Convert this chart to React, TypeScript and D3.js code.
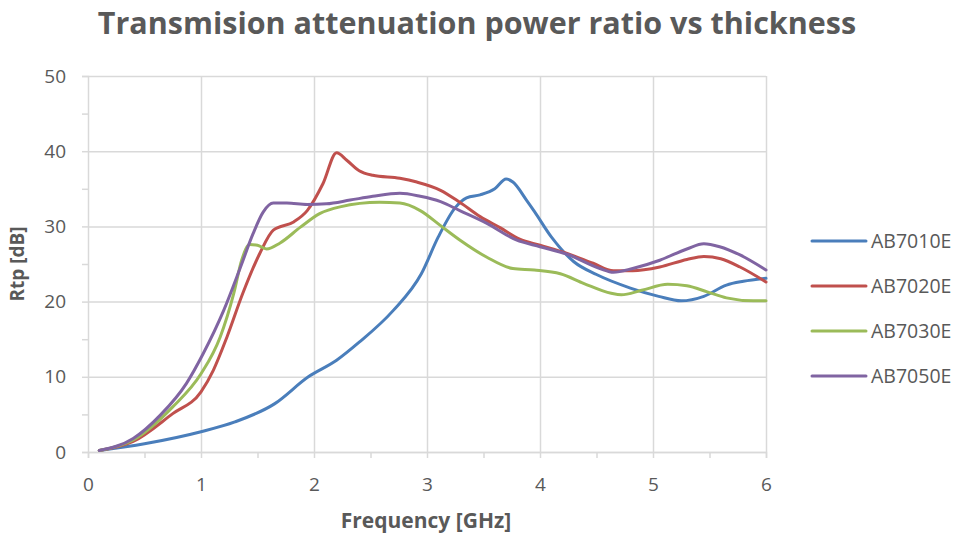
import { useEffect, useRef } from 'react';
import * as d3 from 'd3';

// Frequency [GHz] / Rtp [dB]
const f7010 = [0.1, 0.5, 1.0, 1.3, 1.65, 1.95, 2.2, 2.4, 2.7, 2.95, 3.1, 3.25, 3.35, 3.47, 3.6, 3.7, 3.76, 3.88, 3.95, 4.1, 4.3, 4.5, 4.8, 5.05, 5.25, 5.45, 5.65, 5.8, 6.0];
const v7010 = [0.2, 1.1, 2.7, 4.0, 6.4, 10.0, 12.2, 14.6, 18.8, 23.7, 28.6, 32.5, 33.8, 34.2, 35.0, 36.3, 35.9, 33.5, 32.0, 28.6, 25.3, 23.6, 21.8, 20.7, 20.1, 20.7, 22.2, 22.7, 23.1];

const f7020 = [0.1, 0.4, 0.75, 1.0, 1.11, 1.23, 1.37, 1.52, 1.64, 1.82, 1.94, 2.08, 2.2, 2.29, 2.4, 2.52, 2.76, 2.91, 3.12, 3.29, 3.47, 3.65, 3.82, 4.0, 4.24, 4.47, 4.65, 4.82, 5.06, 5.3, 5.45, 5.6, 5.77, 6.0];
const v7020 = [0.2, 1.4, 5.1, 8.0, 10.9, 15.3, 21.1, 26.4, 29.5, 30.6, 32.1, 35.7, 39.8, 38.8, 37.4, 36.8, 36.4, 35.9, 34.8, 33.2, 31.3, 29.8, 28.3, 27.5, 26.4, 25.1, 24.1, 24.1, 24.6, 25.6, 26.0, 25.7, 24.6, 22.6];

const f7030 = [0.1, 0.4, 0.75, 1.0, 1.17, 1.29, 1.36, 1.43, 1.5, 1.58, 1.7, 1.88, 2.05, 2.23, 2.58, 2.76, 2.94, 3.12, 3.29, 3.53, 3.76, 3.95, 4.18, 4.39, 4.63, 4.72, 4.9, 5.13, 5.3, 5.48, 5.65, 5.89, 6.0];
const v7030 = [0.2, 1.6, 6.0, 10.4, 15.3, 21.1, 25.5, 27.6, 27.5, 27.0, 27.8, 29.9, 31.7, 32.6, 33.2, 33.1, 32.1, 30.1, 28.2, 25.9, 24.4, 24.2, 23.7, 22.4, 21.1, 20.9, 21.5, 22.3, 22.1, 21.3, 20.5, 20.1, 20.1];

const f7050 = [0.1, 0.4, 0.64, 0.87, 1.02, 1.2, 1.35, 1.46, 1.55, 1.64, 1.76, 1.94, 2.11, 2.32, 2.52, 2.76, 2.94, 3.12, 3.29, 3.53, 3.79, 4.0, 4.24, 4.53, 4.65, 4.82, 5.06, 5.3, 5.45, 5.59, 5.77, 6.0];
const v7050 = [0.2, 1.8, 4.9, 9.1, 13.1, 18.8, 24.6, 29.0, 31.9, 33.1, 33.1, 32.9, 33.0, 33.5, 34.0, 34.4, 34.0, 33.3, 32.1, 30.4, 28.2, 27.3, 26.3, 24.4, 23.9, 24.4, 25.5, 27.0, 27.7, 27.3, 26.2, 24.2];

const seriesNames = ['AB7010E', 'AB7020E', 'AB7030E', 'AB7050E'];
const seriesColors = ['#4a7ebb', '#c0504d', '#9bbb59', '#8064a2'];
const seriesX = [f7010, f7020, f7030, f7050];
const seriesY = [v7010, v7020, v7030, v7050];

const xTicks = [0, 1, 2, 3, 4, 5, 6];
const yTicks = [0, 10, 20, 30, 40, 50];

const FONT = '"Open Sans", sans-serif';
const TEXT = '#595959';
const GRID = '#d9d9d9';

export default function App() {
  const ref = useRef<SVGSVGElement>(null);

  useEffect(() => {
    const svg = d3.select(ref.current);
    svg.selectAll('*').remove();

    const margin = { left: 88, right: 195, top: 76, bottom: 88 };
    const width = 961, height = 540;
    const w = width - margin.left - margin.right;
    const h = height - margin.top - margin.bottom;

    const x = d3.scaleLinear().domain([0, 6]).range([0, w]);
    const y = d3.scaleLinear().domain([0, 50]).range([h, 0]);

    svg.append('text')
      .attr('x', 477).attr('y', 34).attr('text-anchor', 'middle')
      .style('font-family', FONT).style('font-weight', 700).style('font-size', '30.5px')
      .style('fill', TEXT).text('Transmision attenuation power ratio vs thickness');

    const g = svg.append('g').attr('transform', `translate(${margin.left},${margin.top})`);

    // Grid
    g.append('g').call(d3.axisLeft(y).tickValues(yTicks).tickSize(-w).tickFormat(() => ''))
      .call(a => a.select('.domain').remove())
      .call(a => a.selectAll('line').attr('stroke', GRID).attr('stroke-width', 1.5));
    g.append('g').attr('transform', `translate(0,${h})`)
      .call(d3.axisBottom(x).tickValues(xTicks.slice(1)).tickSize(-h).tickFormat(() => ''))
      .call(a => a.select('.domain').remove())
      .call(a => a.selectAll('line').attr('stroke', GRID).attr('stroke-width', 1.5));

    // Minor ticks
    g.append('g').call(d3.axisLeft(y).tickValues(d3.range(0, 51, 5)).tickSize(6).tickFormat(() => ''))
      .call(a => a.selectAll('line,path').attr('stroke', GRID).attr('stroke-width', 1.5));
    g.append('g').attr('transform', `translate(0,${h})`)
      .call(d3.axisBottom(x).tickValues(d3.range(0, 6.01, 0.5)).tickSize(6).tickFormat(() => ''))
      .call(a => a.selectAll('line,path').attr('stroke', GRID).attr('stroke-width', 1.5));

    // Tick labels
    g.append('g').call(d3.axisLeft(y).tickValues(yTicks).tickSize(0).tickPadding(22).tickFormat(d3.format('d')))
      .call(a => a.select('.domain').remove())
      .call(a => a.selectAll('text').style('font-family', FONT).style('font-size', '19px').style('fill', TEXT));
    g.append('g').attr('transform', `translate(0,${h})`)
      .call(d3.axisBottom(x).tickValues(xTicks).tickSize(0).tickPadding(26).tickFormat(d3.format('d')))
      .call(a => a.select('.domain').remove())
      .call(a => a.selectAll('text').style('font-family', FONT).style('font-size', '19px').style('fill', TEXT));

    // Axis titles
    svg.append('text').attr('x', 426).attr('y', 528).attr('text-anchor', 'middle')
      .style('font-family', FONT).style('font-weight', 700).style('font-size', '21px').style('fill', TEXT)
      .text('Frequency [GHz]');
    svg.append('text').attr('transform', 'translate(24,264) rotate(-90)').attr('text-anchor', 'middle')
      .style('font-family', FONT).style('font-weight', 700).style('font-size', '19px').style('fill', TEXT)
      .text('Rtp [dB]');

    // Lines
    const line = d3.line<[number, number]>().x(d => x(d[0])).y(d => y(d[1])).curve(d3.curveMonotoneX);
    seriesNames.forEach((name, i) => {
      const pts = seriesX[i].map((fx, j) => [fx, seriesY[i][j]] as [number, number]);
      g.append('path').datum(pts).attr('d', line)
        .style('fill', 'none').style('stroke', seriesColors[i]).style('stroke-width', 3)
        .style('stroke-linejoin', 'round').style('stroke-linecap', 'round');
    });

    // Legend
    const lg = svg.append('g').attr('transform', 'translate(812,241)');
    seriesNames.forEach((name, i) => {
      const row = lg.append('g').attr('transform', `translate(0,${i * 45})`);
      row.append('line').attr('x1', 0).attr('x2', 54).attr('y1', 0).attr('y2', 0)
        .style('stroke', seriesColors[i]).style('stroke-width', 3).style('stroke-linecap', 'round');
      row.append('text').attr('x', 59).attr('y', 7)
        .style('font-family', FONT).style('font-size', '19.5px').style('fill', TEXT).text(name);
    });
  }, []);

  return (
    <svg ref={ref} width={961} height={540}
      style={{ position: 'absolute', left: 0, top: 0, background: '#fff' }} />
  );
}
